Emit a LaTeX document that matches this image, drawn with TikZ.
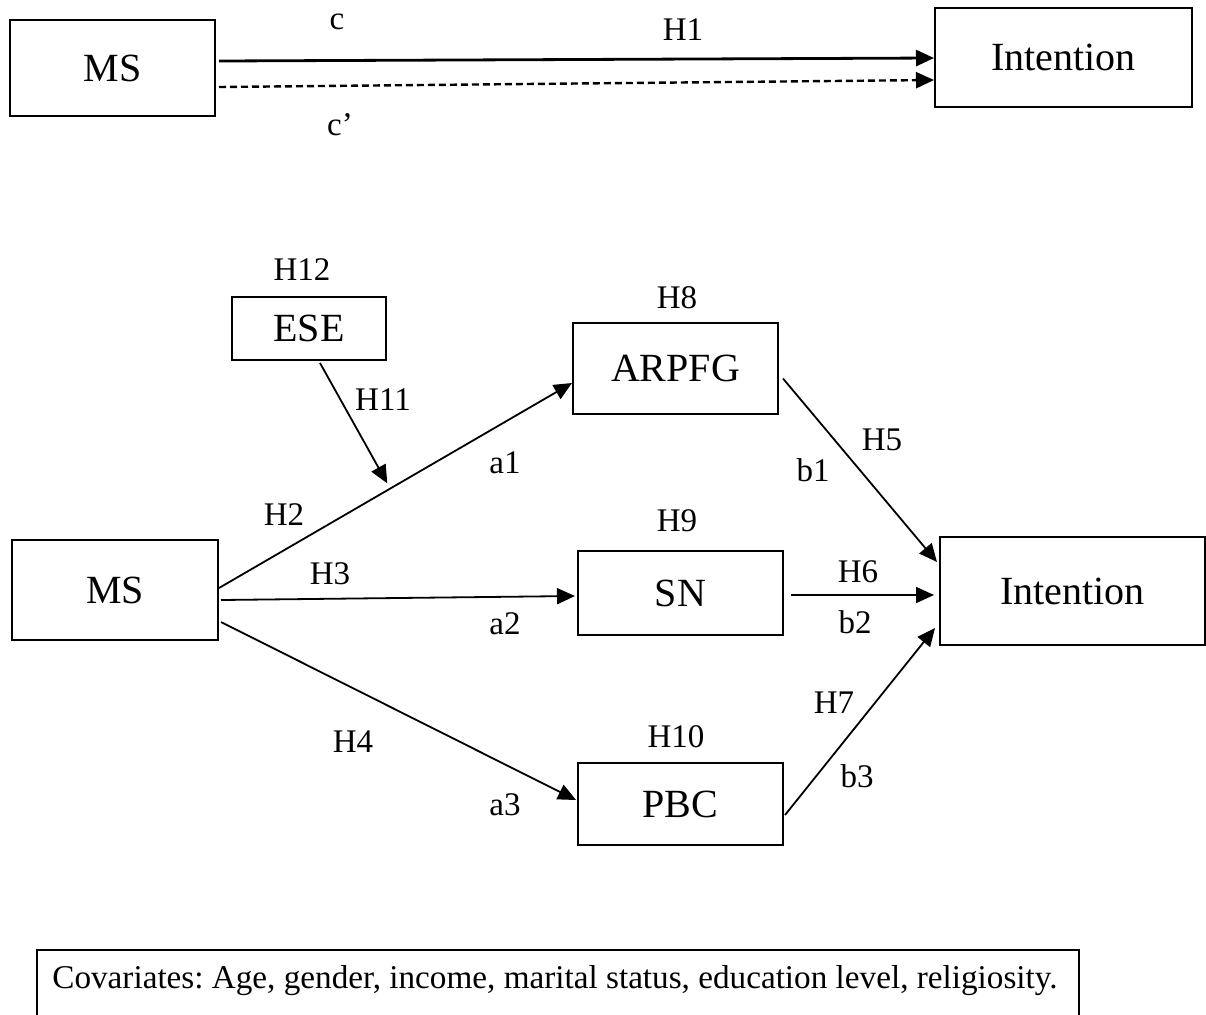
\documentclass[tikz,border=0pt]{standalone}
\usepackage{fontspec}
\setmainfont{Liberation Serif}
\usetikzlibrary{arrows.meta,calc}
\begin{document}
\frenchspacing
\begin{tikzpicture}[x=0.5pt,y=-0.5pt,
  box/.style={draw,line width=1pt,inner sep=0pt,font=\fontsize{20}{22}\selectfont},
  lbl/.style={inner sep=0pt,font=\fontsize{16.5}{18}\selectfont},
  path/.style={line width=0.9pt,-{Triangle[length=9pt,width=8pt]}}]
\clip (0,0) rectangle (1206,1014);
\fill[white] (0,0) rectangle (1206,1014);

% total effect model
\node[box,minimum width=102.5pt,minimum height=48pt] (ms1) at (112.5,68) {MS};
\node[box,minimum width=128.5pt,minimum height=49.5pt] (int1) at (1063.5,57.5) {Intention};
\draw[path,line width=1.4pt] ($(ms1.east)+(3,-7)$) -- ($(int1.west)+(0,0.5)$);
\draw[path,line width=1.2pt,dash pattern=on 3.5pt off 2pt] ($(ms1.east)+(3,19)$) -- ($(int1.west)+(0,22.5)$);
\node[lbl] (lc) at (337,22) {c};
\node[lbl] (lh1) at (683,30) {H1};
\node[lbl] (lcp) at (340,125) {c'};

% mediation model
\node[box,minimum width=77pt,minimum height=31.5pt] (ese) at (309,328.5) {ESE};
\node[box,minimum width=102.5pt,minimum height=45.5pt] (arpfg) at (675.5,368.5) {ARPFG};
\node[box,minimum width=102.5pt,minimum height=42pt] (sn) at (680.5,593) {SN};
\node[box,minimum width=102.5pt,minimum height=41pt] (pbc) at (680.5,804) {PBC};
\node[box,minimum width=103pt,minimum height=50pt] (ms2) at (115,590) {MS};
\node[box,minimum width=132.5pt,minimum height=54pt] (int2) at (1072.5,591) {Intention};

\coordinate (p1) at ($(ms2.east)+(0,-2)$);
\coordinate (p2) at ($(arpfg.west)+(0,14.5)$);
\draw[path] (p1) -- (p2);
\coordinate (mod) at ($(p1)!0.485!(p2)$);
\draw[path,shorten >=3pt] ($(ese.south)+(11,2)$) -- (mod);
\draw[path] ($(ms2.east)+(2,10)$) -- ($(sn.west)+(-2,3)$);
\draw[path] ($(ms2.east)+(2,32)$) -- ($(pbc.west)+(-1,-4)$);
\draw[path] ($(arpfg.east)+(4,10)$) -- ($(int2.west)+(-2,-29)$);
\draw[path] ($(sn.east)+(7,2)$) -- ($(int2.west)+(-5,4)$);
\draw[path] ($(pbc.east)+(1,11)$) -- ($(int2.west)+(-4,37)$);

\node[lbl] (lh12) at (302,270) {H12};
\node[lbl] (lh8) at (677,298) {H8};
\node[lbl] (lh9) at (677,521) {H9};
\node[lbl] (lh10) at (676,737) {H10};
\node[lbl] (lh11) at (383,400) {H11};
\node[lbl] (la1) at (505,463) {a1};
\node[lbl] (lh2) at (284,515) {H2};
\node[lbl] (lh3) at (330,574) {H3};
\node[lbl] (la2) at (505,624) {a2};
\node[lbl] (lh4) at (353,742) {H4};
\node[lbl] (la3) at (505,805) {a3};
\node[lbl] (lh5) at (882,440) {H5};
\node[lbl] (lb1) at (813,470) {b1};
\node[lbl] (lh6) at (858,572) {H6};
\node[lbl] (lb2) at (855,622) {b2};
\node[lbl] (lh7) at (834,703) {H7};
\node[lbl] (lb3) at (857,776) {b3};

% covariates
\draw[line width=1pt] (37,1030) |- (1079,950) -- (1079,1030);
\node[lbl,anchor=west,font=\fontsize{16.6}{19}\selectfont] (cov) at (52,981) {Covariates: Age, gender, income, marital status, education level, religiosity.};
\end{tikzpicture}
\end{document}
